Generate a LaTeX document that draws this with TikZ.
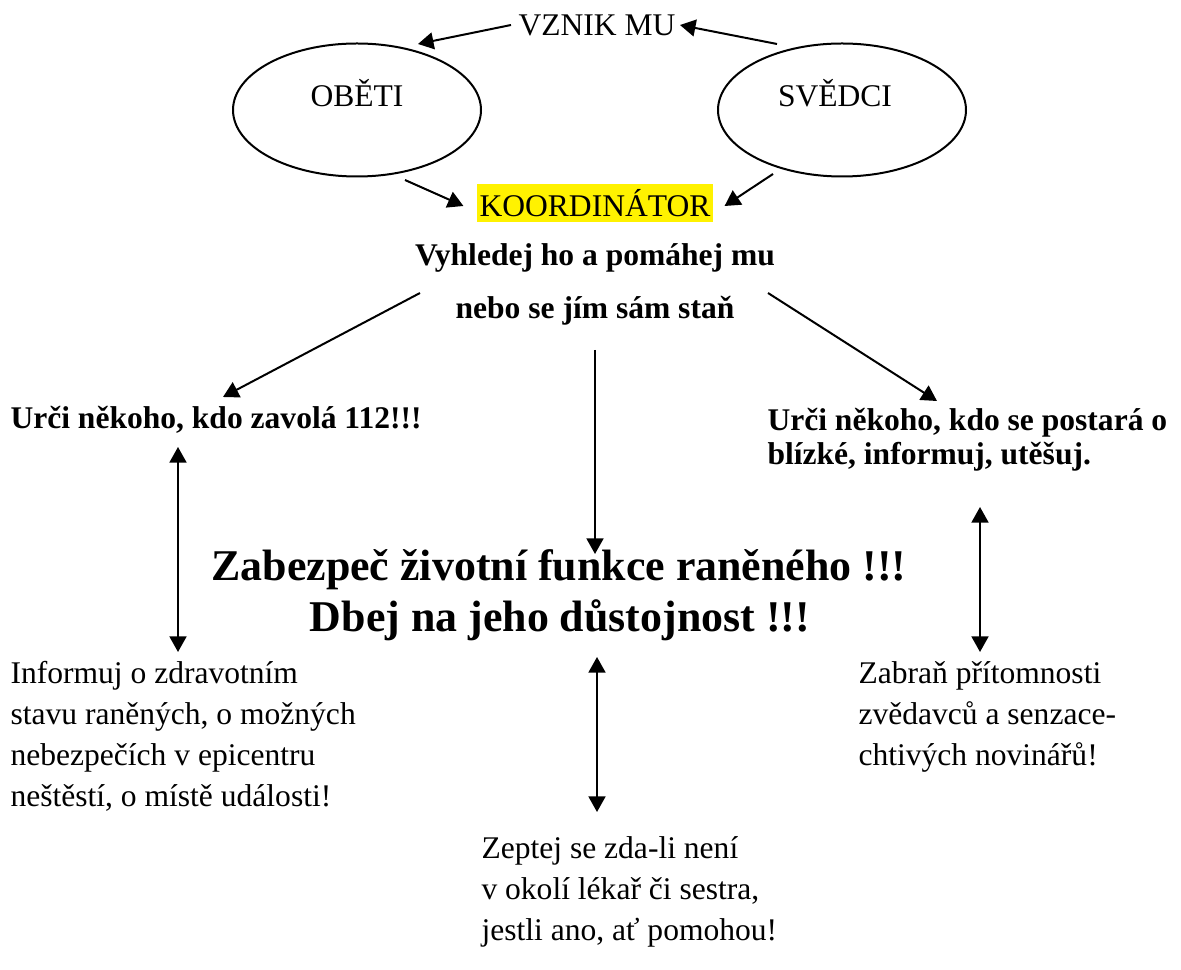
\documentclass[tikz,border=0pt]{standalone}
\usepackage{fontspec}
\setmainfont{Liberation Serif}
\usetikzlibrary{arrows.meta,shapes.geometric}
\newcommand\pxu{0.01336cm}

\begin{document}
\begin{tikzpicture}[x=\pxu,y=-\pxu,
  every node/.style={inner sep=0pt,font=\fontsize{12}{15.6}\selectfont},
  arr/.style={line width=0.76pt,-{Triangle[length=5.9pt,width=6.4pt]}},
  dbl/.style={line width=0.76pt,{Triangle[length=5.9pt,width=6.4pt]}-{Triangle[length=5.9pt,width=6.4pt]}},
  bub/.style={draw,ellipse,line width=0.76pt,minimum width=248*\pxu,minimum height=133*\pxu},
  hl/.style={font=\fontsize{12}{12.8}\bfseries\selectfont},
  big/.style={font=\fontsize{16.7}{19}\bfseries\selectfont}]
\useasboundingbox (0,0) rectangle (1181,970);
\node (vznik) at (597,25) {VZNIK MU};
\node[bub,label={[yshift=17*\pxu]center:OBĚTI}] (obeti) at (357,110) {};
\node[bub,label={[xshift=-7*\pxu,yshift=17*\pxu]center:SVĚDCI}] (svedci) at (842,110) {};
\node[fill=yellow,inner xsep=1pt,minimum height=38*\pxu] (koord) at (595,203) {KOORDINÁTOR};
\node[hl] (vyhl) at (595,258) {Vyhledej ho a pomáhej mu};
\node[hl] (nebo) at (595,311) {nebo se jím sám staň};
\node[hl,anchor=west] (urci1) at (10,420) {Urči někoho, kdo zavolá 112!!!};
\node[hl,anchor=north west,align=left] (urci2) at (767,408) {Urči někoho, kdo se postará o\\blízké, informuj, utěšuj.};
\node[big] (zabez) at (559,570) {Zabezpeč životní funkce raněného !!!};
\node[big] (dbej) at (560,620) {Dbej na jeho důstojnost !!!};
\node[anchor=north west,align=left] (inform) at (10,661) {Informuj o zdravotním\\stavu raněných, o možných\\nebezpečích v epicentru\\neštěstí, o místě události!};
\node[anchor=north west,align=left] (zabran) at (858,661) {Zabraň přítomnosti\\zvědavců a senzace-\\chtivých novinářů!};
\node[anchor=north west,align=left] (zeptej) at (481,836) {Zeptej se zda-li není\\v okolí lékař či sestra,\\jestli ano, ať pomohou!};
\draw[arr] ([shift={(-7,0)}]vznik.west) -- ([shift={(61,-66)}]obeti.center);
\draw[arr] ([shift={(-65,-66)}]svedci.center) -- ([shift={(4,0)}]vznik.east);
\draw[arr] ([shift={(48,70)}]obeti.center) -- ([shift={(-13,3)}]koord.west);
\draw[arr] ([shift={(-69,64)}]svedci.center) -- ([shift={(11,3)}]koord.east);
\draw[arr] ([shift={(-175,-18)}]nebo.center) -- ([shift={(213,-23)}]urci1.west);
\draw[arr] ([shift={(173,-18)}]nebo.center) -- ([shift={(170,-7)}]urci2.north west);
\draw[arr] ([shift={(0,39)}]nebo.center) -- ([shift={(36,-16)}]zabez.center);
\draw[dbl] ([shift={(168,27)}]urci1.west) -- ([shift={(168,-9)}]inform.north west);
\draw[dbl] ([shift={(37,37)}]dbej.center) -- ([shift={(116,-24)}]zeptej.north west);
\draw[dbl] ([shift={(213,99)}]urci2.north west) -- ([shift={(122,-9)}]zabran.north west);
\end{tikzpicture}
\end{document}
